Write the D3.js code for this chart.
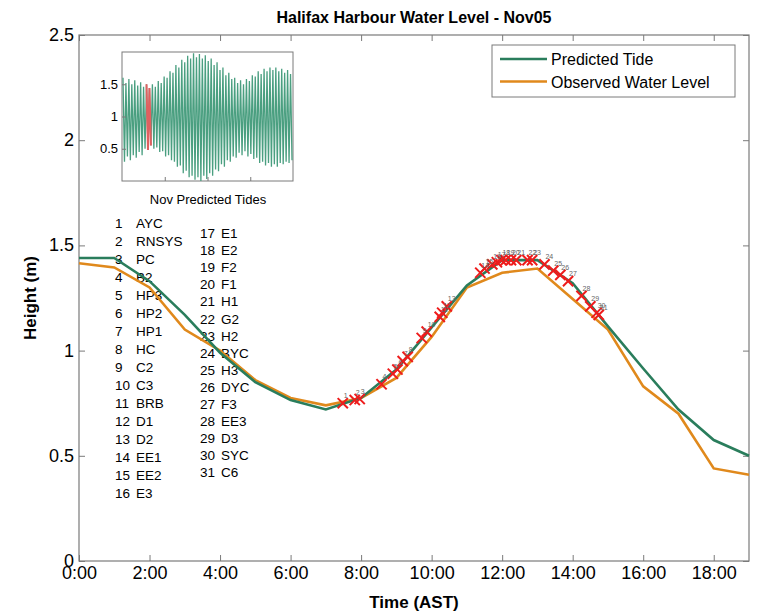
<!DOCTYPE html>
<html><head><meta charset="utf-8">
<script src="https://cdn.jsdelivr.net/npm/d3@7/dist/d3.min.js"></script>
<style>body{margin:0;background:#fff}svg{display:block;font-family:"Liberation Sans",Arial,sans-serif}</style>
</head><body><svg id="c" width="761" height="613"></svg>
<script>
// ---- data ----
const hours = [0,1,2,3,4,5,6,7,8,9,10,11,12,13,14,15,16,17,18,19];
const predicted = [1.44,1.44,1.33,1.17,0.99,0.85,0.765,0.72,0.775,0.91,1.11,1.31,1.43,1.43,1.32,1.115,0.915,0.72,0.575,0.50];
const observed  = [1.415,1.395,1.30,1.10,1.00,0.86,0.775,0.74,0.775,0.87,1.065,1.30,1.37,1.39,1.245,1.10,0.83,0.70,0.44,0.41];
const stationNames = ["AYC","RNSYS","PC","B2","HP3","HP2","HP1","HC","C2","C3","BRB","D1","D2","EE1","EE2","E3",
  "E1","E2","F2","F1","H1","G2","H2","BYC","H3","DYC","F3","EE3","D3","SYC","C6"];
const stationTimes = [7.48,7.82,7.96,8.58,8.9,9.03,9.18,9.32,9.72,9.86,10.23,10.3,10.43,11.38,11.5,11.72,11.85,11.98,12.1,12.25,12.4,12.72,12.85,13.2,13.45,13.65,13.87,14.25,14.5,14.68,14.74];
const stationHeights = [0.75,0.765,0.77,0.84,0.89,0.91,0.95,0.97,1.06,1.09,1.16,1.18,1.21,1.37,1.39,1.41,1.42,1.43,1.43,1.43,1.43,1.43,1.43,1.41,1.38,1.36,1.33,1.26,1.21,1.18,1.17];
const xTicks = [0,2,4,6,8,10,12,14,16,18];
const xTickLabels = ["0:00","2:00","4:00","6:00","8:00","10:00","12:00","14:00","16:00","18:00"];
const yTicks = [0,0.5,1,1.5,2,2.5];
const yTickLabels = ["0","0.5","1","1.5","2","2.5"];
// inset: November predicted tides, high/low per tidal cycle
const insetHighs = [1.60,1.52,1.58,1.50,1.56,1.48,1.53,1.46,1.50,
  1.44,1.50,1.46,1.55,1.52,1.62,1.60,1.70,
  1.68,1.80,1.76,1.88,1.84,1.94,
  1.90,1.98,1.92,1.97,1.90,1.95,1.86,1.90,
  1.80,1.84,1.72,1.76,1.64,1.68,1.58,
  1.60,1.52,1.56,1.50,1.58,1.55,1.64,
  1.62,1.70,1.66,1.74,1.70,1.76,1.72,
  1.76,1.70,1.74,1.68,1.72,1.66];
const insetLows = [0.30,0.38,0.32,0.40,0.36,0.45,0.40,0.50,0.48,
  0.55,0.50,0.52,0.45,0.46,0.38,0.40,0.32,
  0.30,0.22,0.24,0.12,0.16,0.06,
  0.08,0.02,0.06,0.00,0.08,0.03,0.12,0.08,
  0.18,0.15,0.26,0.22,0.32,0.30,0.38,
  0.36,0.44,0.40,0.46,0.38,0.42,0.34,
  0.36,0.28,0.30,0.24,0.28,0.22,0.26,
  0.22,0.28,0.26,0.30,0.28,0.32];
const insetRed = [16,19]; // sample index range of Nov 05
const insetYTicks = [0.5,1,1.5];
const insetYTickLabels = ["0.5","1","1.5"];
const insetXTicks = [0.25,0.5,0.75];

// ---- drawing ----
const svg = d3.select("#c");
const green = "#2a7d5c", orange = "#e0891c", axisCol = "#7a7a7a";
const L = 79, R = 749, T = 35, B = 561;
const x = d3.scaleLinear().domain([0,19]).range([L,R]);
const y = d3.scaleLinear().domain([0,2.5]).range([B,T]);

// frame
svg.append("rect").attr("x",L).attr("y",T).attr("width",R-L).attr("height",B-T)
  .attr("fill","none").attr("stroke",axisCol).attr("stroke-width",1.2);

// axes (ticks inward)
const xb = svg.append("g").attr("transform",`translate(0,${B})`)
  .call(d3.axisBottom(x).tickValues(xTicks).tickSize(-6).tickPadding(8).tickFormat((d,i)=>xTickLabels[i]));
const xt = svg.append("g").attr("transform",`translate(0,${T})`)
  .call(d3.axisTop(x).tickValues(xTicks).tickSize(-6).tickFormat(""));
const yl = svg.append("g").attr("transform",`translate(${L},0)`)
  .call(d3.axisLeft(y).tickValues(yTicks).tickSize(-6).tickPadding(5).tickFormat((d,i)=>yTickLabels[i]));
const yr = svg.append("g").attr("transform",`translate(${R},0)`)
  .call(d3.axisRight(y).tickValues(yTicks).tickSize(-6).tickFormat(""));
[xb,xt,yl,yr].forEach(g=>{
  g.select(".domain").remove();
  g.selectAll(".tick line").attr("stroke",axisCol);
  g.selectAll("text").attr("fill","#000").style("font-size","18px").style("font-family","'Liberation Sans',Arial,sans-serif");
});
xb.selectAll("text").attr("dy","0.55em");
yl.selectAll("text").attr("dy","0.3em");

// title & labels
svg.append("text").attr("x",414).attr("y",23).attr("text-anchor","middle")
  .style("font-size","16px").style("font-weight","bold").text("Halifax Harbour Water Level - Nov05");
svg.append("text").attr("x",414).attr("y",608).attr("text-anchor","middle")
  .style("font-size","17px").style("font-weight","bold").text("Time (AST)");
svg.append("text").attr("transform","translate(36,298) rotate(-90)").attr("text-anchor","middle")
  .style("font-size","17px").style("font-weight","bold").text("Height (m)");

// station list
const col1 = stationNames.slice(0,16), col2 = stationNames.slice(16);
const list = svg.append("g").style("font-size","13.5px");
col1.forEach((n,i)=>{
  list.append("text").attr("x",115).attr("y",228+i*18).text(i+1);
  list.append("text").attr("x",136).attr("y",228+i*18).text(n);
});
col2.forEach((n,i)=>{
  list.append("text").attr("x",200).attr("y",238+i*17.1).text(i+17);
  list.append("text").attr("x",221).attr("y",238+i*17.1).text(n);
});

// main lines
const line = d3.line().x((d,i)=>x(hours[i])).y(d=>y(d));
svg.append("path").datum(observed).attr("d",line).attr("fill","none").attr("stroke",orange).attr("stroke-width",2.6);
svg.append("path").datum(predicted).attr("d",line).attr("fill","none").attr("stroke",green).attr("stroke-width",2.6);

// station markers
const sym = d3.symbol().type(d3.symbolX).size(70);
const mk = svg.append("g");
stationTimes.forEach((t,i)=>{
  mk.append("path").attr("d",sym).attr("transform",`translate(${x(t)},${y(stationHeights[i])})`)
    .attr("fill","none").attr("stroke","#ee1c1c").attr("stroke-width",2);
});
stationTimes.forEach((t,i)=>{
  mk.append("text").attr("x",x(t)+1).attr("y",y(stationHeights[i])-5)
    .style("font-size","7px").attr("fill","#666").text(i+1);
});

// legend
const lg = svg.append("g");
lg.append("rect").attr("x",492).attr("y",45).attr("width",243).attr("height",52)
  .attr("fill","#fff").attr("stroke",axisCol).attr("stroke-width",1);
[["Predicted Tide",green],["Observed Water Level",orange]].forEach((d,i)=>{
  lg.append("line").attr("x1",500).attr("x2",547).attr("y1",59+i*22.5).attr("y2",59+i*22.5)
    .attr("stroke",d[1]).attr("stroke-width",2.6);
  lg.append("text").attr("x",551).attr("y",65+i*22.5).style("font-size","16px").text(d[0]);
});

// inset
const iL = 122, iR = 293, iT = 52, iB = 181;
const insetSeries = [];
insetHighs.forEach((h,i)=>{ insetSeries.push(h); insetSeries.push(insetLows[i]); });
const ix = d3.scaleLinear().domain([0,insetSeries.length-1]).range([iL+1,iR-1]);
const ixf = d3.scaleLinear().domain([0,1]).range([iL,iR]);
const iy = d3.scaleLinear().domain([0,2]).range([iB,iT]);
const ins = svg.append("g");
ins.append("rect").attr("x",iL).attr("y",iT).attr("width",iR-iL).attr("height",iB-iT)
  .attr("fill","#fff").attr("stroke",axisCol).attr("stroke-width",1);
const il = d3.line().x((d,i)=>ix(i)).y(d=>iy(d));
ins.append("path").datum(insetSeries).attr("d",il).attr("fill","none").attr("stroke","#4a9f80").attr("stroke-width",1.3);
const redIdx = d3.range(insetRed[0],insetRed[1]+1);
ins.append("path").datum(redIdx).attr("d",d3.line().x(i=>ix(i)).y(i=>iy(insetSeries[i])))
  .attr("fill","none").attr("stroke","#e06060").attr("stroke-width",2);
const iya = ins.append("g").attr("transform",`translate(${iL},0)`)
  .call(d3.axisLeft(iy).tickValues(insetYTicks).tickSize(-4).tickPadding(4).tickFormat((d,i)=>insetYTickLabels[i]));
const ixa = ins.append("g").attr("transform",`translate(0,${iB})`)
  .call(d3.axisBottom(ixf).tickValues(insetXTicks).tickSize(-4).tickFormat(""));
[iya,ixa].forEach(g=>{g.select(".domain").remove();g.selectAll(".tick line").attr("stroke",axisCol);});
iya.selectAll("text").attr("fill","#000").style("font-size","13px").style("font-family","'Liberation Sans',Arial,sans-serif");
ins.append("text").attr("x",208).attr("y",204).attr("text-anchor","middle").style("font-size","13px").text("Nov Predicted Tides");
</script></body></html>
